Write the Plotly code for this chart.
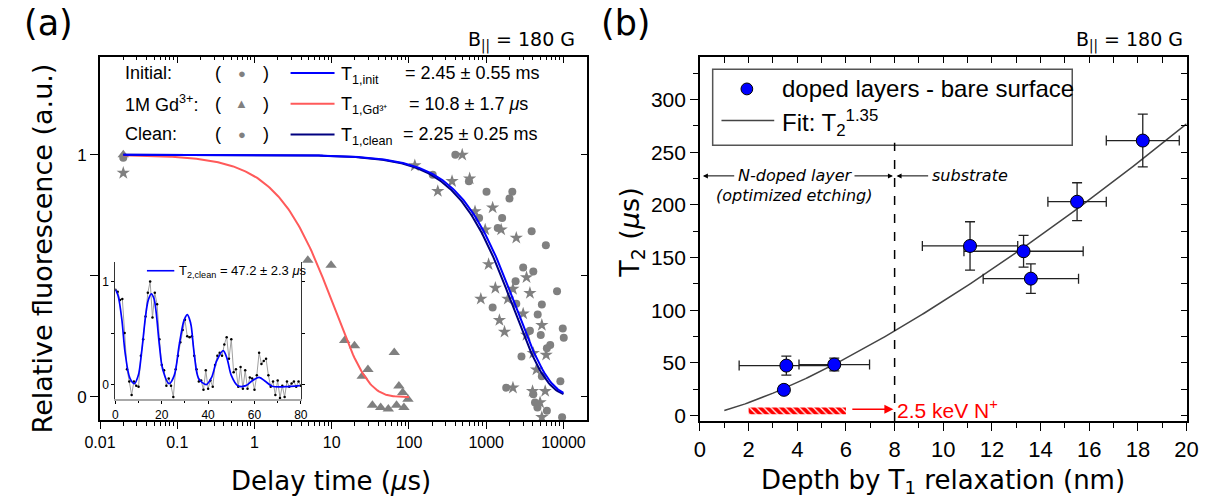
import numpy as np
import plotly.graph_objects as go

W, H = 1223, 504

# ---------------- Panel (a) data ----------------
gd_t = [0.02, 4.9, 9.8, 14.7, 19.7, 24.8, 29.4, 33.6, 43, 54, 64.5, 69, 74, 83, 86, 97]
gd_v = [1.0, 0.565, 0.544, 0.233, 0.211, 0.086, 0.113, -0.034, -0.044, -0.05, 0.184, -0.034, 0.045, 0.018, -0.044, -0.01]

init_t = [0.02, 203, 398, 597, 1009, 2177, 2000, 809, 1607, 1410, 3873, 5920, 3008, 4070, 2400, 8260,
          1211, 2450, 5250, 4640, 3680, 5080, 9790, 10090, 6740, 6100, 2860, 9120, 5250, 1815, 4070,
          4280, 6100, 9600, 4600]
init_v = [0.988, 0.918, 1.0, 0.891, 0.848, 0.848, 0.82, 0.739, 0.739, 0.698, 0.684, 0.627, 0.535, 0.518,
          0.478, 0.437, 0.369, 0.385, 0.382, 0.341, 0.273, 0.256, 0.283, 0.245, 0.215, 0.201, 0.167, 0.065,
          0.086, 0.038, 0.011, -0.023, -0.057, -0.084, -0.044]

clean_t = [0.02, 119, 236, 361, 489, 610, 716, 1211, 970, 1560, 2450, 1073, 1313, 851, 2218, 3325, 3680,
           1905, 1482, 3008, 1725, 5250, 3325, 5970, 2218, 4470, 5800, 3980, 4980, 5250, 4070]
clean_v = [0.925, 0.956, 0.85, 0.891, 1.0, 0.902, 0.766, 0.782, 0.691, 0.691, 0.657, 0.548, 0.45, 0.405,
           0.446, 0.494, 0.429, 0.405, 0.317, 0.344, 0.269, 0.297, 0.256, 0.174, 0.038, 0.113, 0.024,
           0.024, -0.023, -0.084, 0.181]

# fit parameters (from the legend)
T1_INIT = 2450.0   # us
T1_GD = 10.8       # us
T1_CLEAN = 2250.0  # us

# inset: spin echo data and fit
inset_t = list(range(81))
inset_v = [0.92, 0.9, 0.82, 0.83, 0.5, 0.15, 0.03, -0.1, 0.03, -0.01, -0.02, 0.28, 0.44, 0.66, 0.89, 1.0,
           0.65, 0.89, 0.78, 0.44, 0.19, 0.14, -0.01, 0.06, -0.01, -0.12, 0.15, 0.28, 0.41, 0.53, 0.63,
           0.47, 0.46, 0.47, 0.28, 0.15, 0.03, 0.04, -0.05, 0.14, -0.04, 0.04, -0.02, 0.19, 0.28, 0.31,
           0.28, 0.39, 0.46, 0.25, 0.44, 0.12, 0.15, -0.02, 0.17, -0.04, 0.14, -0.04, 0.07, 0.06, -0.05,
           0.09, 0.31, 0.2, 0.23, 0.25, 0.09, -0.02, 0.03, -0.1, 0.04, -0.13, -0.01, -0.12, 0.03, -0.02,
           0.01, 0.03, -0.02, 0.03, -0.01]
inset_fit_t = [0, 1.2, 2.8, 4.2, 6.3, 8.2, 9.9, 11.3, 13, 14.2, 15.5, 16.7, 17.6, 19, 20.4, 23.2, 25.4, 27.5,
               29.3, 30.1, 31, 31.9, 32.7, 34.1, 35.9, 39.2, 41.5, 43.7, 46.5, 48.2, 50, 52.8, 56.3, 59.2,
               62, 64.8, 67.6, 73.2, 79.6]
inset_fit_v = [0.92, 0.86, 0.63, 0.31, 0.06, 0.01, 0.09, 0.31, 0.66, 0.82, 0.88, 0.83, 0.70, 0.38, 0.15,
               0.01, 0.09, 0.38, 0.60, 0.65, 0.68, 0.64, 0.57, 0.28, 0.06, 0.0, 0.07, 0.23, 0.33, 0.25,
               0.09, -0.01, -0.01, 0.04, 0.07, 0.03, -0.015, -0.02, -0.01]

# ---------------- Panel (b) data ----------------
depth = [3.55, 5.52, 3.45, 11.1, 13.3, 13.6, 15.5, 18.2]
depth_err = [1.94, 1.45, 0.15, 1.96, 2.45, 1.96, 1.2, 1.5]
t2 = [47.5, 48.5, 24.5, 161, 156, 130, 203, 261]
t2_err = [9, 6, 4, 23, 15, 14, 18, 25]
FIT_A, FIT_N = 4.85, 1.35
implant_range = [2.0, 6.0]

# ---------------- helpers ----------------
def px(x):
    return x / W

def py(y):
    return 1 - y / H

GREY = '#808080'
TICKF = 'Liberation Sans'
TITF = 'DejaVu Sans'

fig = go.Figure()

# panel (a) data markers
fig.add_trace(go.Scatter(x=init_t, y=init_v, mode='markers', xaxis='x', yaxis='y',
                         marker=dict(symbol='circle', size=8, color=GREY)))
fig.add_trace(go.Scatter(x=clean_t, y=clean_v, mode='markers', xaxis='x', yaxis='y',
                         marker=dict(symbol='star', size=10, color=GREY)))
fig.add_trace(go.Scatter(x=gd_t, y=gd_v, mode='markers', xaxis='x', yaxis='y',
                         marker=dict(symbol='triangle-up', size=10, color=GREY)))

# fit curves
t_long = np.logspace(np.log10(0.02), 4, 300)
t_short = np.logspace(np.log10(0.02), 2, 200)
fig.add_trace(go.Scatter(x=t_short, y=np.exp(-t_short / T1_GD), mode='lines', xaxis='x', yaxis='y',
                         line=dict(color='#ff5a5a', width=2)))
fig.add_trace(go.Scatter(x=t_long, y=np.exp(-t_long / T1_CLEAN), mode='lines', xaxis='x', yaxis='y',
                         line=dict(color='#000080', width=2)))
fig.add_trace(go.Scatter(x=t_long, y=np.exp(-t_long / T1_INIT), mode='lines', xaxis='x', yaxis='y',
                         line=dict(color='#0000ff', width=2)))

# inset
fig.add_trace(go.Scatter(x=inset_t, y=inset_v, mode='lines+markers', xaxis='x3', yaxis='y3',
                         line=dict(color='#a0a0a0', width=1),
                         marker=dict(size=2.5, color='black')))
fig.add_trace(go.Scatter(x=inset_fit_t, y=inset_fit_v, mode='lines', xaxis='x3', yaxis='y3',
                         line=dict(color='#0000ff', width=1.7, shape='spline', smoothing=0.9)))

# panel (b)
fig.add_trace(go.Bar(x=[implant_range[1] - implant_range[0]], base=[implant_range[0]], y=[4.5],
                     width=[6.5], orientation='h', xaxis='x2', yaxis='y2',
                     marker=dict(color='white', line=dict(width=0),
                                 pattern=dict(shape='\\', fgcolor='#ff0000', bgcolor='white',
                                              fgopacity=1, size=5, solidity=0.75))))
d_fit = np.linspace(1, 20, 200)
fig.add_trace(go.Scatter(x=d_fit, y=FIT_A * d_fit ** FIT_N, mode='lines', xaxis='x2', yaxis='y2',
                         line=dict(color='#444444', width=1.5)))
fig.add_trace(go.Scatter(x=depth, y=t2, mode='markers', xaxis='x2', yaxis='y2',
                         error_x=dict(type='data', array=depth_err, color='#222222', thickness=1.3, width=5),
                         error_y=dict(type='data', array=t2_err, color='#222222', thickness=1.3, width=5),
                         marker=dict(symbol='circle', size=13, color='#0000ff',
                                     line=dict(color='black', width=1))))

# empty traces to create overlay (mirror-tick) axes
for xa, ya in [('x4', 'y'), ('x', 'y4'), ('x5', 'y2'), ('x2', 'y5')]:
    fig.add_trace(go.Scatter(x=[None], y=[None], xaxis=xa, yaxis=ya, mode='markers', hoverinfo='skip'))

# ---------------- axes ----------------
major_log = [0.01, 0.1, 1, 10, 100, 1000, 10000]
major_log_txt = ['0.01', '0.1', '1', '10', '100', '1000', '10000']
minor_log = [k * 10.0 ** n for n in range(-2, 5) for k in range(2, 10) if k * 10.0 ** n < 20000]

xa_dom = [px(86), px(584)]
ya_dom = [py(425), py(58)]
xb_dom = [px(700), px(1198)]
yb_dom = [py(426), py(58)]
XA_RANGE = [-2, 4.3]
YA_RANGE = [-0.095, 1.403]
XB_RANGE = [0, 20]
YB_RANGE = [-5, 340]

common = dict(showgrid=False, zeroline=False, linecolor='black', tickcolor='black')

layout = dict(
    width=W, height=H, margin=dict(l=0, r=0, t=0, b=0),
    paper_bgcolor='white', plot_bgcolor='white', showlegend=False,
    xaxis=dict(domain=xa_dom, type='log', range=XA_RANGE, anchor='y',
               tickmode='array', tickvals=major_log, ticktext=major_log_txt,
               ticks='outside', ticklen=7, tickwidth=1.3,
               minor=dict(tickmode='array', tickvals=minor_log, ticks='outside', ticklen=4,
                          tickwidth=1, tickcolor='black', showgrid=False),
               showline=True, linewidth=1.6, mirror=True,
               tickfont=dict(family=TICKF, size=16, color='black'), **common),
    yaxis=dict(domain=ya_dom, range=YA_RANGE, anchor='x',
               tickmode='array', tickvals=[0, 1], ticktext=['0', '1'],
               ticks='outside', ticklen=8, tickwidth=1.3,
               minor=dict(tickmode='array', tickvals=[0.5], ticks='outside', ticklen=8,
                          tickwidth=1.3, tickcolor='black', showgrid=False),
               showline=True, linewidth=1.6, mirror=True,
               tickfont=dict(family=TICKF, size=17, color='black'), **common),
    xaxis4=dict(overlaying='x', side='top', anchor='y', type='log', range=XA_RANGE,
                tickmode='array', tickvals=major_log, showticklabels=False,
                ticks='inside', ticklen=6, tickwidth=1.2,
                minor=dict(tickmode='array', tickvals=minor_log, ticks='inside', ticklen=3,
                           tickwidth=1, tickcolor='black', showgrid=False),
                showline=False, **common),
    yaxis4=dict(overlaying='y', side='right', anchor='x', range=YA_RANGE,
                tickmode='array', tickvals=[0, 0.5, 1], showticklabels=False,
                ticks='inside', ticklen=6, tickwidth=1.2, showline=False, **common),
    xaxis3=dict(domain=[px(101.7), px(292)], range=[0, 80.2], anchor='y3',
                tickmode='array', tickvals=[0, 20, 40, 60, 80], ticks='outside', ticklen=3, tickwidth=1,
                minor=dict(tickmode='array', tickvals=[10, 30, 50, 70], ticks='outside', ticklen=2,
                           tickcolor='black', showgrid=False),
                showline=True, linewidth=2, linecolor='#a8a8a8', mirror=False,
                tickfont=dict(family=TICKF, size=12, color='black'),
                showgrid=False, zeroline=False, tickcolor='black'),
    yaxis3=dict(domain=[py(404), py(265)], range=[-0.141, 1.19], anchor='x3',
                tickmode='array', tickvals=[0, 1], ticktext=['0', '1'],
                ticks='outside', ticklen=3, tickwidth=1,
                minor=dict(tickmode='array', tickvals=[0.5], ticks='outside', ticklen=3,
                           tickcolor='black', showgrid=False),
                showline=True, linewidth=1, linecolor='#333333', mirror='ticks',
                tickfont=dict(family=TICKF, size=12, color='black'),
                showgrid=False, zeroline=False, tickcolor='black'),
    xaxis2=dict(domain=xb_dom, range=XB_RANGE, anchor='y2',
                tickmode='linear', tick0=0, dtick=2, ticks='outside', ticklen=8, tickwidth=1.3,
                minor=dict(dtick=1, ticks='outside', ticklen=5, tickwidth=1, tickcolor='black',
                           showgrid=False),
                showline=True, linewidth=1.6, mirror=True,
                tickfont=dict(family=TICKF, size=22, color='black'), **common),
    yaxis2=dict(domain=yb_dom, range=YB_RANGE, anchor='x2',
                tickmode='linear', tick0=0, dtick=50, ticks='outside', ticklen=8, tickwidth=1.3,
                minor=dict(dtick=25, ticks='outside', ticklen=5, tickwidth=1, tickcolor='black',
                           showgrid=False),
                showline=True, linewidth=1.6, mirror=True,
                tickfont=dict(family=TICKF, size=21, color='black'), **common),
    xaxis5=dict(overlaying='x2', side='top', anchor='y2', range=XB_RANGE,
                tickmode='linear', tick0=0, dtick=1, showticklabels=False,
                ticks='inside', ticklen=6, tickwidth=1.2, showline=False, **common),
    yaxis5=dict(overlaying='y2', side='right', anchor='x2', range=YB_RANGE,
                tickmode='linear', tick0=0, dtick=25, showticklabels=False,
                ticks='inside', ticklen=6, tickwidth=1.2, showline=False, **common),
)
fig.update_layout(**layout)

# ---------------- annotations ----------------
ann = []

def text(x, y, s, size, family=TICKF, color='black', xanchor='left', angle=0, yanchor='middle'):
    ann.append(dict(x=px(x), y=py(y), xref='paper', yref='paper', text=s, showarrow=False,
                    xanchor=xanchor, yanchor=yanchor, textangle=angle,
                    font=dict(family=family, size=size, color=color)))

# panel labels
text(6, 23, '(a)', 35, TITF)
text(597, 23, '(b)', 35, TITF)
text(574, 41, 'B<sub>||</sub> = 180 G', 19, TITF, xanchor='right')
text(1196, 41, 'B<sub>||</sub> = 180 G', 19, TITF, xanchor='right')

# axis titles
text(322, 487, 'Delay time (<i>μ</i>s)', 26, TITF, xanchor='center')
text(27, 251, 'Relative fluorescence (a.u.)', 27, TITF, xanchor='center', angle=-90)
text(949, 487, 'Depth by T<sub>1</sub> relaxation (nm)', 26, TITF, xanchor='center')
text(630, 236, 'T<sub>2</sub> (<i>μ</i>s)', 27, TITF, xanchor='center', angle=-90)

# panel (a) legend
rows = [74, 105, 136]
labels = ['Initial:', '1M Gd<sup>3+</sup>:', 'Clean:']
symbols = ['●', '▲', '●']
tnames = ['T<sub>1,init</sub>', 'T<sub>1,Gd³⁺</sub>', 'T<sub>1,clean</sub>']
tvals = ['= 2.45 ± 0.55 ms', '= 10.8 ± 1.7 <i>μ</i>s', '= 2.25 ± 0.25 ms']
tvx = [396, 400, 394]
lcols = ['#0000ff', '#ff5a5a', '#000080']
shapes = []
for i, yy in enumerate(rows):
    text(110, yy, labels[i], 18)
    text(207, yy, '(', 18, xanchor='center')
    text(231, yy, symbols[i], 13, color=GREY, xanchor='center')
    text(256, yy, ')', 18, xanchor='center')
    text(331, yy + 2, tnames[i], 18)
    text(tvx[i], yy, tvals[i], 18)
    shapes.append(dict(type='line', xref='paper', yref='paper', x0=px(281), x1=px(326),
                       y0=py(yy), y1=py(yy), line=dict(color=lcols[i], width=2)))

# inset legend
shapes.append(dict(type='line', xref='paper', yref='paper', x0=px(134), x1=px(162),
                   y0=py(274), y1=py(274), line=dict(color='#0000ff', width=1.6)))
text(165, 275, 'T<sub>2,clean</sub> = 47.2 ± 2.3 <i>μ</i>s', 13)

# panel (b) legend
shapes.append(dict(type='rect', xref='paper', yref='paper', x0=px(713), x1=px(1081),
                   y0=py(147), y1=py(70), line=dict(color='#555555', width=1.5), fillcolor='white',
                   layer='below'))
shapes.append(dict(type='circle', xref='paper', yref='paper', x0=px(742), x1=px(754),
                   y0=py(96), y1=py(84), line=dict(color='black', width=1), fillcolor='#0000ff'))
text(782, 90, 'doped layers - bare surface', 24)
shapes.append(dict(type='line', xref='paper', yref='paper', x0=px(722), x1=px(776),
                   y0=py(122), y1=py(122), line=dict(color='#444444', width=1.5)))
text(782, 124, 'Fit: T<sub>2</sub><sup>1.35</sup>', 24)

# panel (b) annotations
shapes.append(dict(type='line', xref='x2', yref='y2', x0=8, x1=8, y0=-5, y1=259,
                   line=dict(color='black', width=1.5, dash='dash')))

def arrow(x_head, x_tail, y, color='black', width=1, size=1.0):
    ann.append(dict(x=x_head, y=y, ax=x_tail, ay=y, xref='x2', yref='y2', axref='x2', ayref='y2',
                    text='', showarrow=True, arrowhead=2, arrowsize=size, arrowwidth=width,
                    arrowcolor=color))

arrow(0.12, 1.47, 227.5)
arrow(7.93, 6.29, 227.5)
arrow(8.08, 9.44, 227.5)
for x0, y0, s in [(3.9, 227.5, '<i>N-doped layer</i>'), (3.88, 208.5, '<i>(optimized etching)</i>'),
                  (11.08, 227.5, '<i>substrate</i>')]:
    ann.append(dict(x=x0, y=y0, xref='x2', yref='y2', text=s, showarrow=False, xanchor='center',
                    font=dict(family=TITF, size=16, color='black')))
arrow(7.95, 6.2, 6, color='red', width=1.5, size=1.2)
ann.append(dict(x=8.0, y=6, xref='x2', yref='y2', text='2.5 keV N<sup>+</sup>', showarrow=False,
                xanchor='left', yanchor='middle', font=dict(family=TICKF, size=21, color='red')))

fig.update_layout(annotations=ann, shapes=shapes)
fig.write_html('out.html')
